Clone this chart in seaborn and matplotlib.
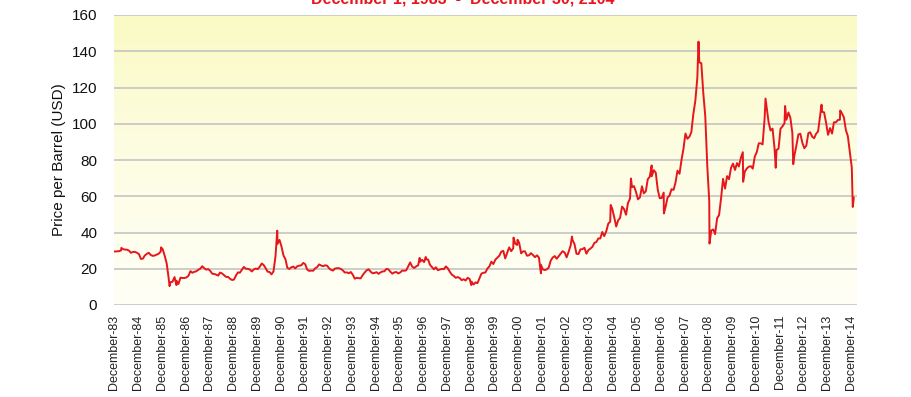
import numpy as np
import pandas as pd
import matplotlib
matplotlib.use("Agg")
import matplotlib.pyplot as plt
import matplotlib.dates as mdates
from matplotlib.colors import LinearSegmentedColormap
import seaborn as sns

# ---------------- data ----------------
title_text = "December 1, 1983  -  December 30, 2104"
y_label = "Price per Barrel (USD)"

monthly_start = "1983-12-15"
monthly_prices = [
    29.6,                                                              # 1983 Dec
    29.7, 30.1, 30.8, 30.6, 30.5, 30.0, 28.8, 29.3, 29.3, 28.8, 28.1, 25.4,  # 1984
    25.6, 27.3, 28.2, 28.8, 27.6, 27.1, 27.3, 27.8, 28.3, 29.5, 30.8, 27.2,  # 1985
    22.9, 15.4, 12.6, 12.8, 15.4, 13.4, 11.6, 15.1, 14.9, 14.9, 15.2, 16.1,  # 1986
    18.7, 17.8, 18.3, 18.6, 19.4, 20.0, 21.4, 20.3, 19.5, 19.8, 18.9, 17.3,  # 1987
    17.1, 16.8, 16.2, 17.9, 17.4, 16.5, 15.5, 15.5, 14.5, 13.8, 14.0, 16.3,  # 1988
    18.0, 17.8, 19.4, 21.0, 20.0, 20.0, 19.6, 18.5, 19.6, 20.1, 19.8, 21.1,  # 1989
    22.9, 22.1, 20.4, 18.4, 18.2, 16.9, 18.6, 27.2, 33.7, 35.9, 32.3, 27.3,  # 1990
    25.2, 20.5, 19.9, 20.8, 21.2, 20.2, 21.4, 21.7, 21.9, 23.2, 22.5, 19.5,  # 1991
    18.8, 19.0, 18.9, 20.2, 20.9, 22.4, 21.8, 21.4, 21.9, 21.7, 20.3, 19.4,  # 1992
    19.0, 20.1, 20.3, 20.3, 19.9, 19.1, 17.9, 18.0, 17.5, 18.2, 16.7, 14.5,  # 1993
    15.0, 14.8, 14.7, 16.4, 17.9, 19.1, 19.7, 18.4, 17.5, 17.7, 18.1, 17.2,  # 1994
    18.0, 18.5, 18.6, 19.9, 19.7, 18.4, 17.3, 18.0, 18.2, 17.4, 18.0, 19.0,  # 1995
    18.9, 19.1, 21.3, 23.5, 21.2, 20.4, 21.3, 21.9, 23.9, 24.9, 23.7, 25.2,  # 1996
    25.1, 22.2, 20.9, 19.7, 20.8, 19.2, 19.6, 19.9, 19.8, 21.3, 20.2, 18.3,  # 1997
    16.7, 16.1, 15.0, 15.4, 14.9, 13.7, 14.2, 13.5, 15.0, 14.4, 12.9, 11.3,  # 1998
    12.5, 12.0, 14.7, 17.3, 17.8, 17.9, 20.1, 21.3, 23.9, 22.6, 25.0, 26.1,  # 1999
    27.2, 29.4, 29.9, 25.7, 28.8, 31.8, 29.7, 31.3, 33.9, 33.1, 34.4, 28.5,  # 2000
    29.6, 29.6, 27.2, 27.4, 28.6, 27.6, 26.4, 27.4, 26.2, 22.2, 19.6, 19.3,  # 2001
    19.7, 20.7, 24.5, 26.2, 27.0, 25.5, 26.9, 28.4, 29.7, 28.9, 26.3, 29.4,  # 2002
    32.9, 35.9, 33.6, 28.3, 28.1, 30.7, 30.8, 31.6, 28.3, 30.3, 31.1, 32.1,  # 2003
    34.3, 34.7, 36.7, 36.7, 40.3, 38.0, 40.7, 44.9, 46.0, 53.1, 48.5, 43.3,  # 2004
    46.8, 48.0, 54.3, 53.0, 49.8, 56.3, 58.7, 65.0, 65.6, 62.4, 58.3, 59.4,  # 2005
    65.5, 61.6, 62.7, 69.4, 70.8, 71.0, 74.4, 73.0, 63.8, 58.9, 59.1, 62.0,  # 2006
    54.5, 59.3, 60.4, 63.9, 63.5, 67.5, 74.1, 72.4, 79.9, 86.2, 94.6, 91.7,  # 2007
    92.9, 95.4, 105.5, 112.6, 125.4, 133.9, 133.4, 116.7, 104.1, 76.6, 57.3, 41.1,  # 2008
    41.7, 39.1, 47.9, 49.6, 59.0, 69.6, 64.2, 71.1, 69.4, 75.7, 78.0, 74.5,  # 2009
    78.3, 76.4, 81.2, 84.3, 73.7, 75.3, 76.3, 76.6, 75.2, 81.9, 84.3, 89.2,  # 2010
    89.2, 88.6, 102.9, 109.5, 100.9, 96.3, 97.3, 86.3, 85.5, 86.3, 97.2, 98.6,  # 2011
    100.3, 102.2, 106.2, 103.3, 94.7, 82.3, 87.9, 94.1, 94.5, 89.5, 86.5, 87.9,  # 2012
    94.8, 95.3, 92.9, 92.0, 94.5, 95.8, 104.6, 106.6, 106.3, 100.5, 93.9, 97.6,  # 2013
    94.6, 100.8, 100.8, 102.1, 102.2, 105.8, 103.6, 96.5, 93.2, 84.4, 75.8, 59.3,  # 2014
]

# daily extremes visible in the chart
spike_dates = ["1983-12-01", "1984-03-20", "1985-11-20", "1986-03-31", "1986-07-15",
               "1990-10-11", "1996-10-08", "1997-01-10", "1998-12-10", "2000-09-20",
               "2000-11-20", "2001-11-15", "2003-03-07", "2004-10-22", "2005-08-30",
               "2006-07-14", "2007-01-18", "2008-07-03", "2008-12-19", "2010-05-20",
               "2011-04-29", "2011-10-03", "2012-02-24", "2012-06-28", "2013-09-06",
               "2014-06-20", "2014-12-30"]
spike_prices = [29.5, 31.5, 31.8, 10.4, 11.0,
                41.0, 26.0, 26.5, 11.0, 37.2,
                36.0, 17.5, 37.8, 55.2, 69.8,
                77.0, 50.5, 145.3, 33.9, 68.0,
                113.9, 75.7, 109.8, 77.7, 110.5,
                107.3, 54.1]

tick_years = list(range(1983, 2015))
tick_labels = [f"December-{y % 100:02d}" for y in tick_years]

# ---------------- frame ----------------
monthly_dates = pd.date_range(monthly_start, periods=len(monthly_prices), freq="MS") + pd.Timedelta(days=14)
df = pd.concat([
    pd.DataFrame({"date": monthly_dates, "price": monthly_prices}),
    pd.DataFrame({"date": pd.to_datetime(spike_dates), "price": spike_prices}),
]).sort_values("date").reset_index(drop=True)

# ---------------- style ----------------
sns.set_style("white")
plt.rcParams["font.family"] = ["Liberation Sans", "DejaVu Sans"]

W, H = 911, 397
fig = plt.figure(figsize=(W / 100, H / 100), dpi=100)
ax = fig.add_axes([114 / W, 1 - 305 / H, (857 - 114) / W, (305 - 15) / H])

sns.lineplot(data=df, x="date", y="price", color="#e6161c", linewidth=1.4,
             estimator=None, ax=ax, zorder=3)

xmin = mdates.date2num(pd.Timestamp("1983-11-28"))
xmax = mdates.date2num(pd.Timestamp("2015-03-05"))

cmap = LinearSegmentedColormap.from_list("bg", ["#fffff6", "#fdfde4", "#fafac4"])
grad = np.linspace(0, 1, 256).reshape(-1, 1)
ax.imshow(grad, extent=[xmin, xmax, 0, 160], origin="lower", aspect="auto",
          cmap=cmap, zorder=0, interpolation="bicubic")

ax.set_xlim(xmin, xmax)
ax.set_ylim(0, 160)
ax.set_yticks(range(0, 161, 20))
ax.set_xticks([mdates.date2num(pd.Timestamp(f"{y}-12-01")) for y in tick_years])
ax.set_xticklabels(tick_labels, rotation=90, fontsize=9, color="#222222")
ax.tick_params(axis="y", labelsize=11, colors="#111111", length=0, pad=12)
ax.tick_params(axis="x", length=0, pad=7)

ax.yaxis.grid(True, color="#c4c4c4", linewidth=1.2)
ax.xaxis.grid(False)
ax.set_axisbelow(True)
for s in ax.spines.values():
    s.set_visible(False)

ax.set_xlabel("")
ax.set_ylabel(y_label, fontsize=11, color="#111111", labelpad=4)

fig.text(0.508, 1 - 4 / H, title_text, ha="center", va="baseline",
         color="#e6161c", fontsize=11.5, fontweight="bold")

fig.savefig("out.png", dpi=100, facecolor="white")
